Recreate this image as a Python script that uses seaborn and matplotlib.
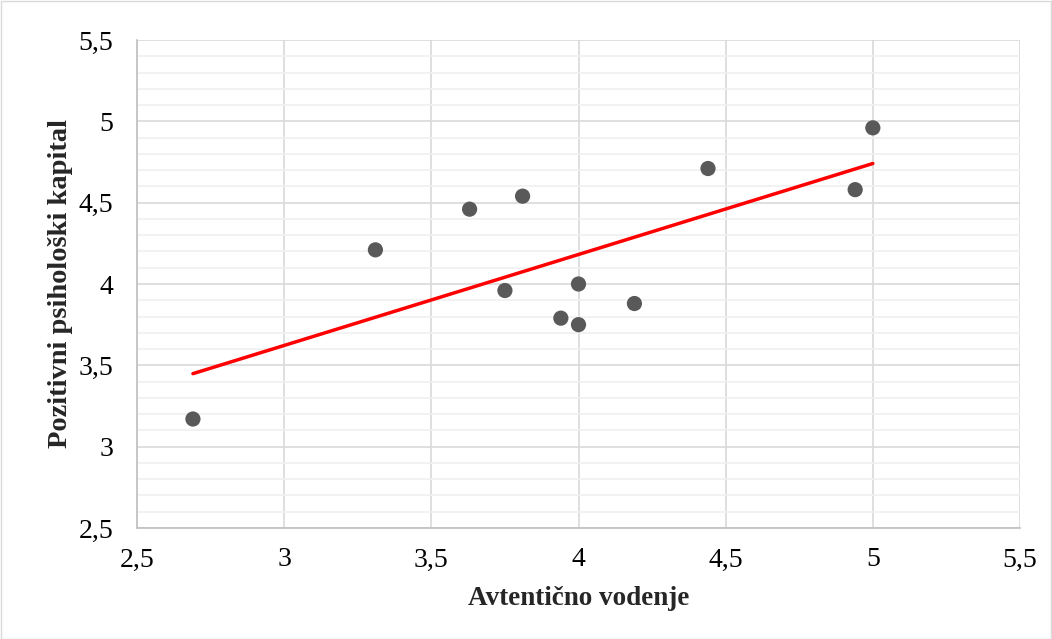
import numpy as np
import pandas as pd
import matplotlib
matplotlib.use("Agg")
import matplotlib.pyplot as plt
import seaborn as sns
from matplotlib.ticker import MultipleLocator, FuncFormatter
from matplotlib.patches import Rectangle

# Data
avtenticno = [2.69, 3.31, 3.63, 3.81, 3.75, 3.94, 4.00, 4.00, 4.19, 4.44, 4.94, 5.00]
kapital = [3.17, 4.21, 4.46, 4.54, 3.96, 3.79, 4.00, 3.75, 3.88, 4.71, 4.58, 4.96]

df = pd.DataFrame({"Avtentično vodenje": avtenticno,
                   "Pozitivni psihološki kapital": kapital})

sns.set_style("white")
plt.rcParams["font.family"] = ["Liberation Serif", "DejaVu Serif"]

fig = plt.figure(figsize=(10.52, 6.39), dpi=100)
ax = fig.add_axes([137 / 1052, 1 - 528 / 639, (1020 - 137) / 1052, (528 - 40) / 639])

# outer frame like the Excel chart area
fig.patches.append(Rectangle((0.5 / 1052, 0.5 / 639), 1 - 1.5 / 1052, 1 - 1.5 / 639,
                             transform=fig.transFigure, fill=False,
                             edgecolor="#d9d9d9", linewidth=1))

sns.regplot(data=df, x="Avtentično vodenje", y="Pozitivni psihološki kapital",
            ax=ax, ci=None, truncate=True,
            scatter_kws={"s": 120, "color": "#595959", "alpha": 1, "zorder": 3,
                         "edgecolor": "none"},
            line_kws={"color": "#ff0000", "linewidth": 2.5, "zorder": 4})

ax.set_xlim(2.5, 5.5)
ax.set_ylim(2.5, 5.5)
ax.xaxis.set_major_locator(MultipleLocator(0.5))
ax.yaxis.set_major_locator(MultipleLocator(0.5))
ax.yaxis.set_minor_locator(MultipleLocator(0.1))
fmt = FuncFormatter(lambda v, p: f"{v:g}".replace(".", ","))
ax.xaxis.set_major_formatter(fmt)
ax.yaxis.set_major_formatter(fmt)

ax.grid(which="major", color="#d9d9d9", linewidth=1.2)
ax.grid(which="minor", axis="y", color="#f0f0f0", linewidth=1.2)
ax.set_axisbelow(True)
ax.tick_params(which="both", length=0, labelsize=20, colors="#000000")
ax.tick_params(axis="x", pad=14)
ax.tick_params(axis="y", pad=17)

for side in ["top", "right"]:
    ax.spines[side].set_visible(False)
for side in ["left", "bottom"]:
    ax.spines[side].set_color("#bfbfbf")
    ax.spines[side].set_linewidth(1.2)

ax.set_xlabel("Avtentično vodenje", fontsize=19.5, fontweight="bold", labelpad=10)
ax.set_ylabel("Pozitivni psihološki kapital", fontsize=20.5, fontweight="bold", labelpad=4)

fig.savefig("out.png", dpi=100)
